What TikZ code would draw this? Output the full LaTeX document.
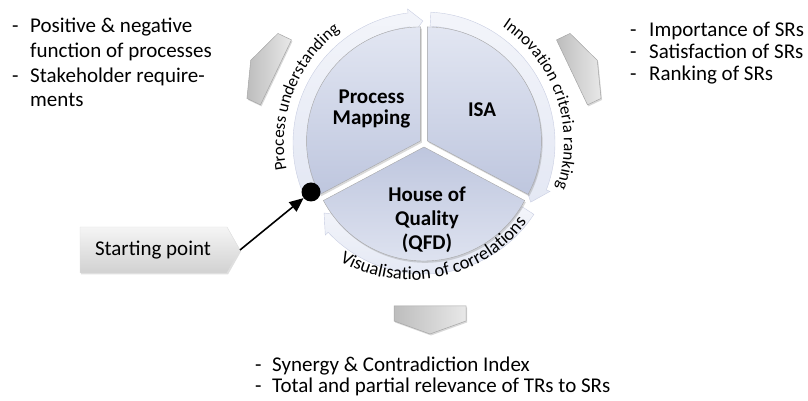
\documentclass[tikz,border=0pt]{standalone}
\usepackage{fontspec}
\setmainfont{Carlito}
\usetikzlibrary{decorations.text,shadows,arrows.meta}
\definecolor{sliceLight}{HTML}{E2E6F2}
\definecolor{sliceDark}{HTML}{BEC6DE}
\definecolor{ringFill}{HTML}{E4E8F4}
\definecolor{ringLine}{HTML}{C9CEE2}
\definecolor{tabLight}{HTML}{E8E8E8}
\definecolor{tabDark}{HTML}{BDBDBD}
\definecolor{tabLine}{HTML}{A6A6A6}
\newcommand\arcfont{\fontsize{17}{17}\selectfont}
\newcommand\arcfontb{\fontsize{18.5}{18.5}\selectfont}
\begin{document}
\begin{tikzpicture}[x=1pt,y=1pt,
  slice/.style={draw=black!35,line width=0.4pt,
     drop shadow={shadow xshift=1.2pt,shadow yshift=-1.8pt,opacity=0.3}},
  ringarrow/.style={top color=ringFill!45!white,bottom color=ringFill,draw=ringLine,line width=0.4pt},
  tabshape/.style={left color=tabDark,right color=tabLight,draw=tabLine,line width=0.5pt,
     drop shadow={shadow xshift=1pt,shadow yshift=-1.5pt,opacity=0.3}},
  startshape/.style={top color=white!96!black,bottom color=white!82!black,draw=black!12,line width=0.4pt,
     drop shadow={shadow xshift=1pt,shadow yshift=-1.5pt,opacity=0.25}},
  bul/.style={anchor=base west,inner sep=0pt,font=\fontsize{21}{24}\selectfont},
  lbl/.style={align=center,inner sep=0pt,font=\bfseries},
  arctext/.style={decorate,decoration={text along path,text align=left,text={#1}}},
]
\useasboundingbox (0,0) rectangle (808,401);
\coordinate (O) at (424,258);
\coordinate (Ob) at (411,266);

\newcommand\ringarr[3]{\path[ringarrow] (#1:131) arc[start angle=#1,end angle=#2,radius=131pt]
   -- (#2:135) -- (#3:122) -- (#2:107) -- (#2:117) arc[start angle=#2,end angle=#1,radius=117pt] -- cycle;}
\newcommand\tabshapepath{\path[tabshape] (0,-36) -- (15,-36) -- (28,0) -- (15,36) -- (0,36) -- cycle;}

\begin{scope}[shift={(O)}]
  % ring arrows
  \ringarr{201}{97}{90.5}
  \ringarr{87}{-21}{-29}
  \ringarr{-33}{-137}{-145}
  % slices
  \begin{scope}[shift={(149:4)}]
    \path[slice,top color=sliceLight,bottom color=sliceDark] (0,0) -- (208:114) arc[start angle=208,end angle=90,radius=114pt] -- cycle;
  \end{scope}
  \begin{scope}[shift={(31:4)}]
    \path[slice,top color=sliceLight,bottom color=sliceDark] (0,0) -- (90:114) arc[start angle=90,end angle=-28,radius=114pt] -- cycle;
  \end{scope}
  \begin{scope}[shift={(270:4)}]
    \path[slice,top color=sliceDark,bottom color=sliceLight] (0,0) -- (-28:114) arc[start angle=-28,end angle=-152,radius=114pt] -- cycle;
  \end{scope}
  % tabs
  \begin{scope}[shift={(154.5:164)},rotate=154.5]\tabshapepath\end{scope}
  \begin{scope}[shift={(25.5:164)},rotate=25.5]\tabshapepath\end{scope}
  % arc texts
  \path[arctext={|\arcfont|Process understanding}] (191:140) arc[start angle=191,end angle=100,radius=140pt];
  \path[arctext={|\arcfont|Innovation criteria ranking}] (56:140) arc[start angle=56,end angle=-30,radius=140pt];
\end{scope}
\begin{scope}[shift={(430,95)},rotate=270]\tabshapepath\end{scope}
\begin{scope}[shift={(Ob)}]
  \path[arctext={|\arcfontb|Visualisation of correlations}] (240.5:145) arc[start angle=240.5,end angle=345,radius=145pt];
\end{scope}

% slice labels
\node[lbl,font=\fontsize{21}{21}\selectfont\bfseries] (pm) at (371.5,292) {Process\\Mapping};
\node[lbl,font=\fontsize{21}{21}\selectfont\bfseries] (isa) at (482,291) {ISA};
\node[lbl,font=\fontsize{21}{24}\selectfont\bfseries] (hoq) at (427,181) {House of\\Quality\\(QFD)};

% starting point
\path[startshape] (80,128) -- (227,128) -- (240,151) -- (227,174) -- (80,174) -- cycle;
\node[inner sep=0pt,font=\fontsize{21}{24}\selectfont] (sp) at (153,151) {Starting point};
\coordinate (sptip) at (240,151);
\node[circle,fill=black,minimum size=19pt,inner sep=0pt] (dot) at (311,209) {};
\draw[line width=1.6pt,-{Triangle[length=14pt,width=12pt]}] (sptip) -- (dot);

% bullet texts
\node[bul] (l1d) at (12,368) {-};  \node[bul] (l1) at (30,368) {Positive \& negative};
\node[bul] (l2) at (30,343) {function of processes};
\node[bul] (l3d) at (12,318) {-};  \node[bul] (l3) at (30,318) {Stakeholder require-};
\node[bul] (l4) at (30,294) {ments};

\node[bul] (r1d) at (630,364) {-}; \node[bul] (r1) at (649,364) {Importance of SRs};
\node[bul] (r2d) at (630,342) {-}; \node[bul] (r2) at (649,342) {Satisfaction of SRs};
\node[bul] (r3d) at (630,320) {-}; \node[bul] (r3) at (649,320) {Ranking of SRs};

\node[bul] (b1d) at (255,29) {-}; \node[bul] (b1) at (272,29) {Synergy \& Contradiction Index};
\node[bul] (b2d) at (255,8) {-};  \node[bul] (b2) at (272,8) {Total and partial relevance of TRs to SRs};
\end{tikzpicture}
\end{document}
